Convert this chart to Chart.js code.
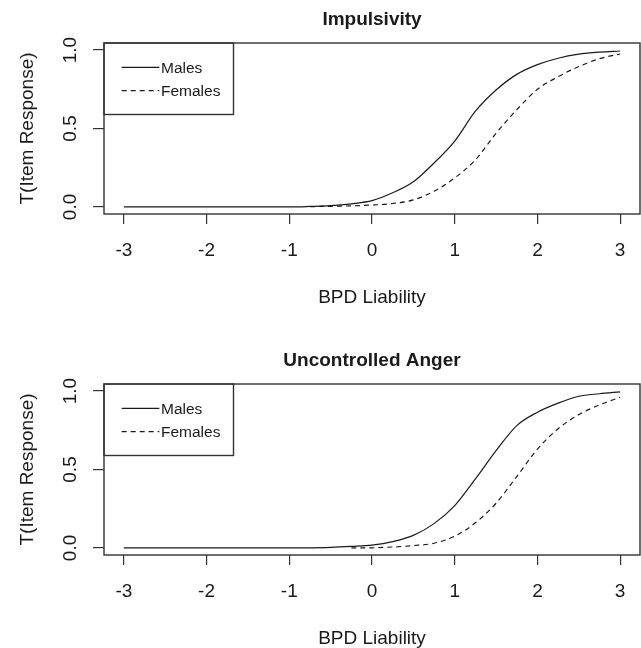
<!DOCTYPE html>
<html>
<head>
<meta charset="utf-8">
<script src="https://cdn.jsdelivr.net/npm/chart.js@4.4.1/dist/chart.umd.min.js"></script>
<style>
  html, body { margin: 0; padding: 0; background: #fff; overflow: hidden; }
  canvas { position: absolute; left: 0; }
  #top { top: 0; }
  #bottom { top: 341px; }
</style>
</head>
<body>
<canvas id="top" width="641" height="341"></canvas>
<canvas id="bottom" width="641" height="341"></canvas>
<script>
// BPD liability grid (x) and item response curves T(Item Response)
const liability = [-3, -2, -1, -0.75, -0.5, -0.25, 0, 0.25, 0.5, 0.75, 1, 1.25, 1.5, 1.75, 2, 2.25, 2.5, 2.75, 3];

const impulsivityMales   = [0, 0, 0, 0.003, 0.008, 0.02, 0.04, 0.09, 0.16, 0.28, 0.42, 0.61, 0.745, 0.845, 0.907, 0.948, 0.974, 0.987, 0.994];
const impulsivityFemales = [null, null, null, 0.002, 0.004, 0.007, 0.012, 0.022, 0.045, 0.10, 0.185, 0.30, 0.47, 0.62, 0.75, 0.83, 0.895, 0.945, 0.975];

const angerMales   = [0, 0, 0, 0.001, 0.004, 0.01, 0.018, 0.04, 0.08, 0.155, 0.27, 0.44, 0.62, 0.78, 0.865, 0.923, 0.967, 0.983, 0.995];
const angerFemales = [null, null, null, null, null, 0, 0.001, 0.006, 0.015, 0.03, 0.075, 0.16, 0.285, 0.455, 0.63, 0.76, 0.85, 0.912, 0.96];

const xTicks = [-3, -2, -1, 0, 1, 2, 3];
const yTicks = [0, 0.5, 1];
const seriesNames = ['Males', 'Females'];

const FONT = '"Liberation Sans", Arial, sans-serif';
const INK = '#1a1a1a';

function toPoints(ys) {
    return liability.map((x, i) => ({ x: x, y: ys[i] }));
}

// R-style frame: box, main title, rotated y labels, boxed legend
const rFrame = {
    id: 'rFrame',
    afterDraw(chart, args, opts) {
        const ctx = chart.ctx;
        const a = chart.chartArea;
        ctx.save();

        ctx.strokeStyle = '#333';
        ctx.lineWidth = 1.4;
        ctx.strokeRect(a.left, a.top, a.right - a.left, a.bottom - a.top);

        ctx.fillStyle = INK;
        ctx.font = 'bold 19px ' + FONT;
        ctx.textAlign = 'center';
        ctx.textBaseline = 'middle';
        ctx.fillText(opts.title, (a.left + a.right) / 2, 20);

        // y tick labels, parallel to the axis
        const ys = chart.scales.y;
        ctx.font = '19px ' + FONT;
        ys.ticks.forEach(t => {
            ctx.save();
            ctx.translate(71, ys.getPixelForValue(t.value));
            ctx.rotate(-Math.PI / 2);
            ctx.fillText(t.value.toFixed(1), 0, 0);
            ctx.restore();
        });

        // legend
        const lx = a.left, ly = a.top;
        ctx.lineWidth = 1.4;
        ctx.strokeStyle = '#333';
        ctx.strokeRect(lx, ly, 129.5, 71.5);
        ctx.font = '15.5px ' + FONT;
        ctx.textAlign = 'left';
        chart.data.datasets.forEach((ds, i) => {
            const yy = ly + 24.3 + i * 23.4;
            ctx.beginPath();
            ctx.setLineDash(ds.borderDash || []);
            ctx.strokeStyle = ds.borderColor;
            ctx.lineWidth = ds.borderWidth;
            ctx.moveTo(lx + 17.7, yy);
            ctx.lineTo(lx + 55.3, yy);
            ctx.stroke();
            ctx.setLineDash([]);
            ctx.fillText(ds.label, lx + 57, yy + 1);
        });
        ctx.restore();
    }
};

function makeChart(id, title, males, females) {
    const ctx = document.getElementById(id).getContext('2d');
    return new Chart(ctx, {
        type: 'line',
        data: {
            datasets: [{
                label: seriesNames[0],
                data: toPoints(males),
                borderColor: INK,
                borderWidth: 1.2,
                pointRadius: 0,
                cubicInterpolationMode: 'monotone',
                spanGaps: false
            }, {
                label: seriesNames[1],
                data: toPoints(females),
                borderColor: INK,
                borderWidth: 1.2,
                borderDash: [5, 4],
                pointRadius: 0,
                cubicInterpolationMode: 'monotone',
                spanGaps: false
            }]
        },
        options: {
            responsive: false,
            animation: false,
            layout: { padding: { left: 0, top: 43, right: 1, bottom: 0 } },
            plugins: {
                legend: { display: false },
                tooltip: { enabled: false },
                rFrame: { title: title }
            },
            scales: {
                x: {
                    type: 'linear',
                    min: -3.24,
                    max: 3.24,
                    afterBuildTicks: s => { s.ticks = xTicks.map(v => ({ value: v })); },
                    afterFit: s => { s.height = 127; },
                    border: { display: false },
                    grid: { drawOnChartArea: false, drawTicks: true, tickLength: 10, color: '#333', lineWidth: 1.2 },
                    ticks: { color: INK, font: { family: FONT, size: 19 }, padding: 15, maxRotation: 0 },
                    title: { display: true, text: 'BPD Liability', color: INK, font: { family: FONT, size: 19 }, padding: { top: 0, bottom: 32 } }
                },
                y: {
                    type: 'linear',
                    min: -0.045,
                    max: 1.045,
                    afterBuildTicks: s => { s.ticks = yTicks.map(v => ({ value: v })); },
                    afterFit: s => { s.width = 104; },
                    border: { display: false },
                    grid: { drawOnChartArea: false, drawTicks: true, tickLength: 11, color: '#333', lineWidth: 1.2 },
                    ticks: { display: false },
                    title: { display: true, text: 'T(Item Response)', color: INK, font: { family: FONT, size: 19 }, padding: { top: 16, bottom: 0 } }
                }
            }
        },
        plugins: [rFrame]
    });
}

makeChart('top', 'Impulsivity', impulsivityMales, impulsivityFemales);
makeChart('bottom', 'Uncontrolled Anger', angerMales, angerFemales);
</script>
</body>
</html>
